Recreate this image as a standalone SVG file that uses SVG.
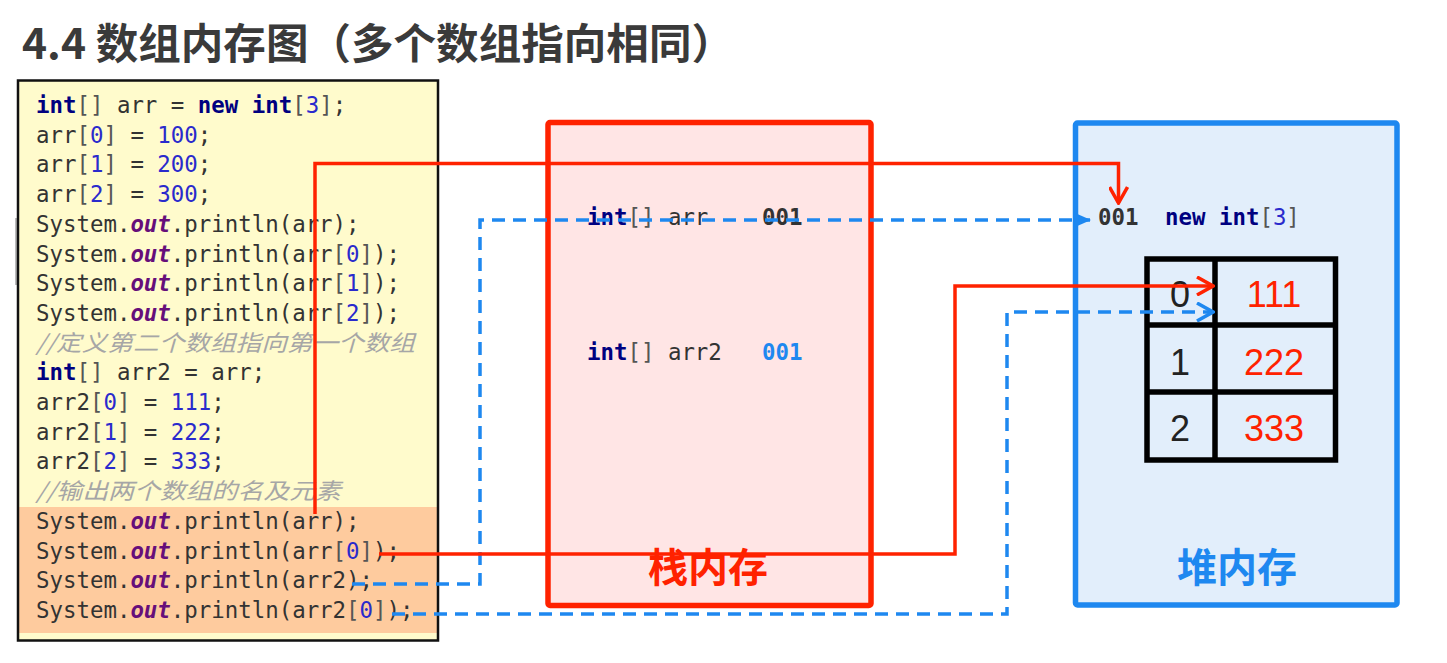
<svg xmlns="http://www.w3.org/2000/svg" width="1447" height="663" viewBox="0 0 1447 663">
<style>
.code{font-family:"DejaVu Sans Mono","Liberation Mono","Noto Sans CJK SC",monospace;font-size:22.4px;fill:#333333}
.kw{fill:#000080;font-weight:bold}
.num{fill:#2a2acc}
.out{fill:#660e7a;font-weight:bold;font-style:italic}
.br{fill:#555555}
.cm{fill:#a6a6a6;font-style:italic;font-family:"Noto Sans CJK SC","DejaVu Sans Mono",sans-serif}
.cn{font-family:"Noto Sans CJK SC",sans-serif;font-weight:bold;font-size:40px}
.cell{font-family:"Liberation Sans","Noto Sans",sans-serif;font-size:36px;text-anchor:middle}
.red{fill:none;stroke:#ff2200;stroke-width:3.5;stroke-linejoin:miter}
.blue{fill:none;stroke:#1e88f0;stroke-width:3.5;stroke-dasharray:13 8}
</style>
<defs>
<marker id="vRed" viewBox="0 0 20 20" refX="18" refY="10" markerWidth="20" markerHeight="20" markerUnits="userSpaceOnUse" orient="auto">
<path d="M2,1 L18,10 L2,19" fill="none" stroke="#ff2200" stroke-width="3.5"/>
</marker>
<marker id="vBlue" viewBox="0 0 20 20" refX="18" refY="10" markerWidth="20" markerHeight="20" markerUnits="userSpaceOnUse" orient="auto">
<path d="M2,1 L18,10 L2,19" fill="none" stroke="#1e88f0" stroke-width="3.5"/>
</marker>
<marker id="triBlue" viewBox="0 0 16 16" refX="15" refY="8" markerWidth="16" markerHeight="16" markerUnits="userSpaceOnUse" orient="auto">
<path d="M0,1 L16,8 L0,15 Z" fill="#1e88f0"/>
</marker>
</defs>
<rect width="1447" height="663" fill="#ffffff"/>

<g id="title">
<text x="22" y="59" font-family="Noto Sans CJK SC,sans-serif" font-weight="bold" font-size="42" fill="#3a3a3a" textLength="712" lengthAdjust="spacingAndGlyphs">4.4 数组内存图（多个数组指向相同）</text>
</g>

<g id="code">
<line x1="16" y1="218" x2="16" y2="285" stroke="#bbbbbb" stroke-width="2"/>
<rect x="18" y="80.5" width="420" height="560" fill="#fffbcc" stroke="none"/>
<rect x="19" y="507" width="418" height="126" fill="#fecb9e"/>
<rect x="18" y="80.5" width="420" height="560" fill="none" stroke="#111111" stroke-width="2.5"/>
<text class="code" x="36" y="113"><tspan class="kw">int</tspan><tspan class="br">[]</tspan> arr = <tspan class="kw">new</tspan> <tspan class="kw">int</tspan><tspan class="br">[</tspan><tspan class="num">3</tspan><tspan class="br">]</tspan>;</text>
<text class="code" x="36" y="142.7">arr<tspan class="br">[</tspan><tspan class="num">0</tspan><tspan class="br">]</tspan> = <tspan class="num">100</tspan>;</text>
<text class="code" x="36" y="172.4">arr<tspan class="br">[</tspan><tspan class="num">1</tspan><tspan class="br">]</tspan> = <tspan class="num">200</tspan>;</text>
<text class="code" x="36" y="202.1">arr<tspan class="br">[</tspan><tspan class="num">2</tspan><tspan class="br">]</tspan> = <tspan class="num">300</tspan>;</text>
<text class="code" x="36" y="231.8">System.<tspan class="out">out</tspan>.println(arr);</text>
<text class="code" x="36" y="261.5">System.<tspan class="out">out</tspan>.println(arr<tspan class="br">[</tspan><tspan class="num">0</tspan><tspan class="br">]</tspan>);</text>
<text class="code" x="36" y="291.2">System.<tspan class="out">out</tspan>.println(arr<tspan class="br">[</tspan><tspan class="num">1</tspan><tspan class="br">]</tspan>);</text>
<text class="code" x="36" y="320.9">System.<tspan class="out">out</tspan>.println(arr<tspan class="br">[</tspan><tspan class="num">2</tspan><tspan class="br">]</tspan>);</text>
<text class="code cm" x="36" y="350.6" textLength="379" lengthAdjust="spacingAndGlyphs">//定义第二个数组指向第一个数组</text>
<text class="code" x="36" y="380.3"><tspan class="kw">int</tspan><tspan class="br">[]</tspan> arr2 = arr;</text>
<text class="code" x="36" y="410">arr2<tspan class="br">[</tspan><tspan class="num">0</tspan><tspan class="br">]</tspan> = <tspan class="num">111</tspan>;</text>
<text class="code" x="36" y="439.7">arr2<tspan class="br">[</tspan><tspan class="num">1</tspan><tspan class="br">]</tspan> = <tspan class="num">222</tspan>;</text>
<text class="code" x="36" y="469.4">arr2<tspan class="br">[</tspan><tspan class="num">2</tspan><tspan class="br">]</tspan> = <tspan class="num">333</tspan>;</text>
<text class="code cm" x="36" y="499.1" textLength="305" lengthAdjust="spacingAndGlyphs">//输出两个数组的名及元素</text>
<text class="code" x="36" y="528.8">System.<tspan class="out">out</tspan>.println(arr);</text>
<text class="code" x="36" y="558.5">System.<tspan class="out">out</tspan>.println(arr<tspan class="br">[</tspan><tspan class="num">0</tspan><tspan class="br">]</tspan>);</text>
<text class="code" x="36" y="588.2">System.<tspan class="out">out</tspan>.println(arr2);</text>
<text class="code" x="36" y="617.9">System.<tspan class="out">out</tspan>.println(arr2<tspan class="br">[</tspan><tspan class="num">0</tspan><tspan class="br">]</tspan>);</text>
</g>

<g id="stack">
<rect x="548" y="122.5" width="323" height="483" rx="2" fill="#ffe5e5" stroke="#ff2200" stroke-width="5.5"/>
<text class="code" x="587" y="225"><tspan class="kw">int</tspan><tspan class="br">[]</tspan> arr</text>
<text class="code" x="762" y="225" font-weight="bold" fill="#111111">001</text>
<text class="code" x="587" y="360"><tspan class="kw">int</tspan><tspan class="br">[]</tspan> arr2</text>
<text class="code" x="762" y="360" font-weight="bold" style="fill:#1e88f0">001</text>
<text class="cn" x="708" y="582" text-anchor="middle" fill="#ff2200">栈内存</text>
</g>

<g id="heap">
<rect x="1075.5" y="123" width="321.5" height="482" rx="2" fill="#e2eefb" stroke="#1e88f0" stroke-width="5.5"/>
<text class="code" x="1098" y="225" font-weight="bold" fill="#111111">001</text>
<text class="code" x="1165" y="225"><tspan class="kw">new</tspan> <tspan class="kw">int</tspan><tspan class="br">[</tspan><tspan class="num">3</tspan><tspan class="br">]</tspan></text>
<text class="cn" x="1237" y="582" text-anchor="middle" fill="#1e88f0">堆内存</text>
</g>

<g id="array">
<rect x="1147" y="259" width="188.5" height="201" fill="none" stroke="#000000" stroke-width="5.5"/>
<line x1="1215" y1="259" x2="1215" y2="460" stroke="#000000" stroke-width="5.5"/>
<line x1="1147" y1="325" x2="1335.5" y2="325" stroke="#000000" stroke-width="5.5"/>
<line x1="1147" y1="392" x2="1335.5" y2="392" stroke="#000000" stroke-width="5.5"/>
<text class="cell" x="1180" y="307" fill="#222222">0</text>
<text class="cell" x="1180" y="375" fill="#222222">1</text>
<text class="cell" x="1180" y="441" fill="#222222">2</text>
<text class="cell" x="1274" y="307" fill="#ff2200">111</text>
<text class="cell" x="1274" y="375" fill="#ff2200">222</text>
<text class="cell" x="1274" y="441" fill="#ff2200">333</text>
</g>

<g id="connectors">
<path class="blue" d="M352,584 H480 V220 H1090" marker-end="url(#triBlue)"/>
<path class="blue" d="M392,614 H1007 V312 H1213" marker-end="url(#vBlue)"/>
<path class="red" d="M315,514 V163.5 H1118.5 V203" marker-end="url(#vRed)"/>
<path class="red" d="M379,554 H955 V286 H1213" marker-end="url(#vRed)"/>
</g>
</svg>
